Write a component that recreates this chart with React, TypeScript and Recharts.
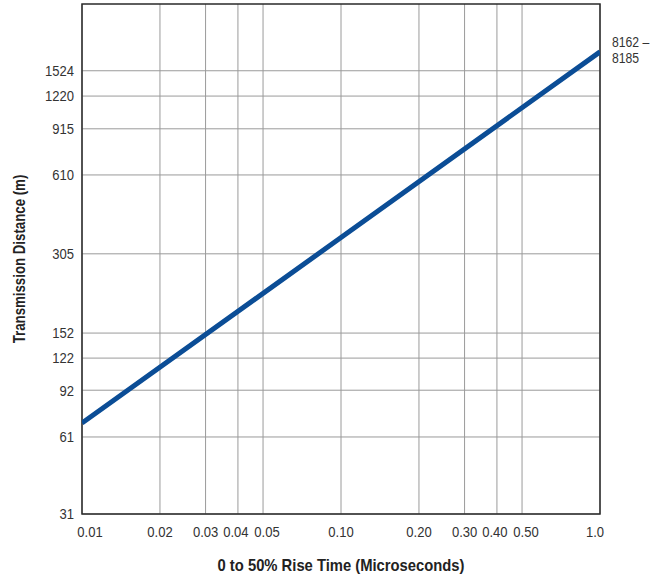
import { LineChart, Line, XAxis, YAxis, CartesianGrid, ReferenceArea, Label } from "recharts";

const RISE_TIME = [0.01, 0.1, 1.0];
const DISTANCE = [69, 352, 1800];
const X_TICKS = [0.01, 0.02, 0.03, 0.04, 0.05, 0.1, 0.2, 0.3, 0.4, 0.5, 1.0];
const X_LABELS = ["0.01", "0.02", "0.03", "0.04", "0.05", "0.10", "0.20", "0.30", "0.40", "0.50", "1.0"];
const Y_TICKS = [31, 61, 92, 122, 152, 305, 610, 915, 1220, 1524];
const Y_DOMAIN = [31, 2740];
const SERIES_LABEL = ["8162 –", "8185"];

const FONT = '"Liberation Sans", Arial, Helvetica, sans-serif';
const BLUE = "#0b4d96";
const NARROW = 0.87; // fake a condensed face
// small nudges so crowded labels don't collide, as in the original
const X_NUDGE = [8, 0, 0, -2, 4, 0, 0, 0, -2, 4, -5];

const data = RISE_TIME.map((t, i) => ({ t, d: DISTANCE[i] }));

function XTick({ x, y, payload, index }: any) {
  return (
    <g transform={`translate(${x + (X_NUDGE[index] ?? 0)},${y}) scale(${NARROW},1)`}>
      <text textAnchor="middle" dy="0.71em" fontSize={15} fill="#333" fontFamily={FONT}>
        {X_LABELS[X_TICKS.indexOf(payload.value)] ?? payload.value}
      </text>
    </g>
  );
}

function YTick({ x, y, payload }: any) {
  return (
    <g transform={`translate(${x},${y}) scale(${NARROW},1)`}>
      <text textAnchor="end" dy="0.355em" fontSize={15} fill="#333" fontFamily={FONT}>{payload.value}</text>
    </g>
  );
}

function XTitle({ viewBox }: any) {
  const cx = viewBox.x + viewBox.width / 2;
  return (
    <g transform={`translate(${cx},${viewBox.y + viewBox.height - 9}) scale(0.87,1)`}>
      <text textAnchor="middle" fontSize={17} fontWeight={700} fill="#222" fontFamily={FONT}>0 to 50% Rise Time (Microseconds)</text>
    </g>
  );
}

function YTitle({ viewBox }: any) {
  const cy = viewBox.y + viewBox.height / 2;
  return (
    <g transform={`translate(${viewBox.x + 25},${cy}) rotate(-90) scale(0.78,1)`}>
      <text textAnchor="middle" fontSize={17} fontWeight={700} fill="#222" fontFamily={FONT}>Transmission Distance (m)</text>
    </g>
  );
}

function EndLabel(props: any) {
  const { x, y, index } = props;
  if (index !== data.length - 1) return null;
  return (
    <g transform={`translate(${x + 12},${y - 5}) scale(${NARROW},1)`}>
      <text x={0} y={0} fontFamily={FONT} fontSize={14} fill="#333">{SERIES_LABEL[0]}</text>
      <text x={0} y={16} fontFamily={FONT} fontSize={14} fill="#333">{SERIES_LABEL[1]}</text>
    </g>
  );
}

export default function App() {
  return (
    <div style={{ position: "absolute", left: 0, top: 0, fontFamily: FONT }}>
      <LineChart width={662} height={580} data={data} margin={{ top: 4, right: 62, bottom: 0, left: 0 }}>
        <CartesianGrid stroke="#9a9a9a" strokeWidth={1} horizontalValues={Y_TICKS} verticalValues={X_TICKS} />
        <XAxis
          dataKey="t" type="number" scale="log" domain={[0.01, 1]} ticks={X_TICKS} allowDataOverflow interval={0}
          tick={<XTick />} tickLine={false} axisLine={false} tickMargin={6}
          height={66}
        >
          <Label content={<XTitle />} />
        </XAxis>
        <YAxis
          dataKey="d" type="number" scale="log" domain={Y_DOMAIN} ticks={Y_TICKS} allowDataOverflow interval={0}
          tick={<YTick />} tickLine={false} axisLine={false} tickMargin={2}
          width={82}
        >
          <Label content={<YTitle />} />
        </YAxis>
        <ReferenceArea x1={0.01} x2={1} y1={Y_DOMAIN[0]} y2={Y_DOMAIN[1]} fill="none" stroke="#2a2a2a" strokeWidth={1.5} ifOverflow="visible" />
        <Line dataKey="d" stroke={BLUE} strokeWidth={5} dot={false} isAnimationActive={false} label={<EndLabel />} />
      </LineChart>
    </div>
  );
}
